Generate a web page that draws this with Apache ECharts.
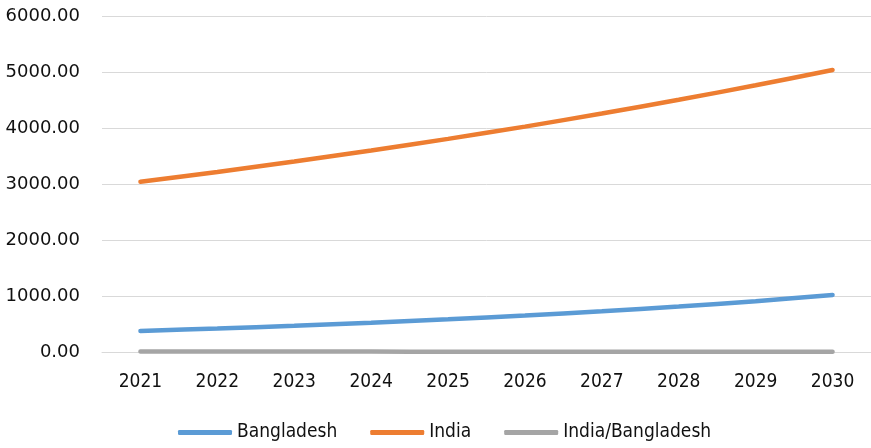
<!DOCTYPE html>
<html>
<head>
<meta charset="utf-8">
<script src="https://cdn.jsdelivr.net/npm/echarts@6/dist/echarts.min.js"></script>
<style>
  html, body { margin: 0; padding: 0; background: #fff; }
  #chart { width: 871px; height: 448px; }
</style>
</head>
<body>
<div id="chart"></div>
<script>
// Years on the horizontal axis
const years = ['2021', '2022', '2023', '2024', '2025', '2026', '2027', '2028', '2029', '2030'];

// Series values
const bangladesh = [375, 419, 468, 522, 584, 652, 728, 813, 908, 1018];
const india = [3041, 3216, 3402, 3598, 3806, 4025, 4258, 4503, 4763, 5037];
const indiaPerBangladesh = [8.1, 7.7, 7.3, 6.9, 6.5, 6.2, 5.8, 5.5, 5.2, 4.9];

// Value axis range
const yMin = 0;
const yMax = 6000;
const yStep = 1000;

const seriesNames = ['Bangladesh', 'India', 'India/Bangladesh'];
const seriesData = [bangladesh, india, indiaPerBangladesh];
const seriesColors = ['#5B9BD5', '#ED7D31', '#A5A5A5'];

const chart = echarts.init(document.getElementById('chart'), null, { renderer: 'canvas' });

chart.setOption({
  animation: false,
  backgroundColor: '#ffffff',
  grid: { left: 102, top: 16, width: 772, bottom: 96, containLabel: false },
  legend: {
    left: 178,
    top: 423,
    padding: 0,
    icon: 'roundRect',
    itemWidth: 54,
    itemHeight: 5,
    itemGap: 33,
    textStyle: { fontFamily: 'DejaVu Sans Condensed', fontSize: 19, color: '#111' },
    data: seriesNames
  },
  xAxis: {
    type: 'category',
    data: years,
    boundaryGap: true,
    axisLine: { show: true, lineStyle: { color: '#d9d9d9', width: 1 } },
    axisTick: { show: false },
    axisLabel: { fontFamily: 'DejaVu Sans Condensed', fontSize: 19, color: '#111', margin: 21 }
  },
  yAxis: {
    type: 'value',
    min: yMin,
    max: yMax,
    interval: yStep,
    axisLine: { show: false },
    axisTick: { show: false },
    splitLine: { lineStyle: { color: '#d9d9d9', width: 1 } },
    axisLabel: {
      fontFamily: 'DejaVu Sans',
      fontSize: 18,
      color: '#111',
      margin: 22,
      formatter: v => v.toFixed(2)
    }
  },
  series: seriesNames.map((name, i) => ({
    name: name,
    type: 'line',
    data: seriesData[i],
    smooth: 0.3,
    showSymbol: false,
    symbol: 'none',
    color: seriesColors[i],
    lineStyle: { width: 4.5, color: seriesColors[i], cap: 'round' },
    z: i === 2 ? 3 : 2
  }))
});
</script>
</body>
</html>
